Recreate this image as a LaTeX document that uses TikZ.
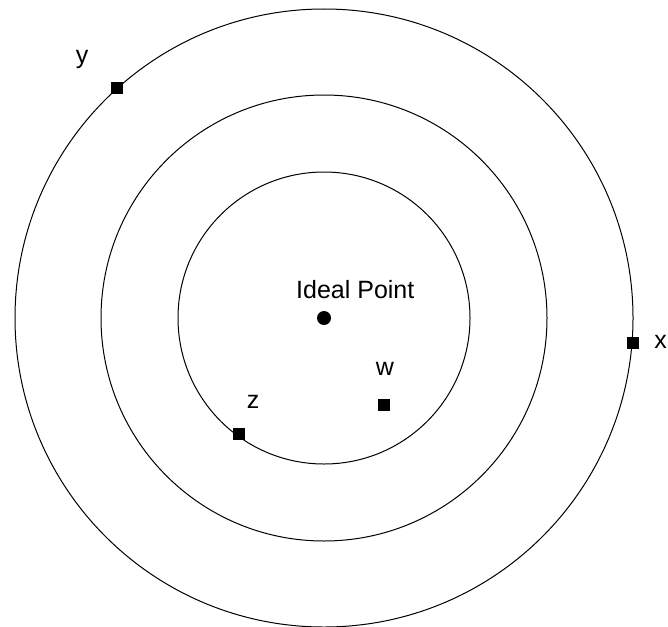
\documentclass[tikz,border=0pt]{standalone}
\usepackage{fontspec}
\setmainfont{Liberation Sans}
\usetikzlibrary{positioning}

\begin{document}
\begin{tikzpicture}[x=1pt, y=-1pt,
  ring/.style={draw, line width=1pt},
  alt/.style={rectangle, fill=black, minimum size=12pt, inner sep=0pt},
  ideal/.style={circle, fill=black, minimum size=14pt, inner sep=0pt},
  lbl/.style={font=\fontsize{25}{28}\selectfont, inner sep=0pt}]
\useasboundingbox (0,0) rectangle (668,626);
\coordinate (c) at (324,318);
% indifference circles
\foreach \r in {146,223,309}
  \draw[ring] (c) circle[radius=\r pt];
% ideal point
\node[ideal] (ideal) at (c) {};
\node[lbl, anchor=base west] (idealtxt) at (296,298) {Ideal Point};
% alternatives
\node[alt] (y) at (117,88) {};
\node[alt] (x) at (633,343) {};
\node[alt] (z) at (239,434) {};
\node[alt] (w) at (384,405) {};
\node[lbl] (ylbl) at (82,59) {y};
\node[lbl, anchor=east] (xlbl) at (667,342) {x};
\node[lbl] (zlbl) at (253,402) {z};
\node[lbl] (wlbl) at (385,369) {w};
\end{tikzpicture}
\end{document}
